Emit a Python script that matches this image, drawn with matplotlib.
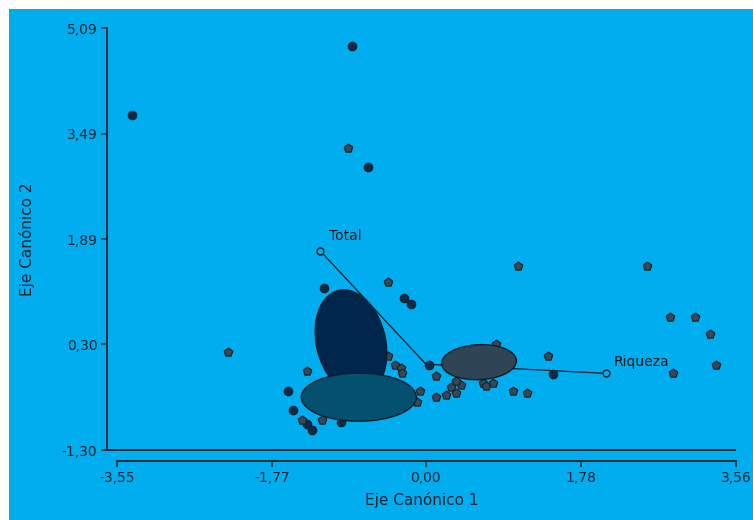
import numpy as np
import matplotlib
matplotlib.use('Agg')
import matplotlib.pyplot as plt
from matplotlib.patches import Ellipse, Rectangle

plt.rcParams['font.family'      ] = 'DejaVu Sans'
plt.rcParams['font.size'        ] = 10
plt.rcParams['xtick.direction'  ] = 'out'
plt.rcParams['ytick.direction'  ] = 'out'
plt.rcParams['xtick.major.size' ] = 4
plt.rcParams['ytick.major.size' ] = 4
plt.rcParams['xtick.major.width'] = 1.1
plt.rcParams['ytick.major.width'] = 1.1

# tick values as printed on the chart
x_ticks = [-3.55, -1.77, 0.00, 1.78, 3.56]
x_tick_labels = ['-3,55', '-1,77', '0,00', '1,78', '3,56']
y_ticks = [-1.30, 0.30, 1.89, 3.49, 5.09]
y_tick_labels = ['-1,30', '0,30', '1,89', '3,49', '5,09']

navy_x = [-3.37, -0.85, -0.67, -1.17, -0.25, -0.17, -1.58, -1.52, -1.37, -1.31, 0.03, 1.46, -0.97]
navy_y = [3.77, 4.81, 2.98, 1.15, 1.00, 0.91, -0.41, -0.70, -0.91, -1.00, -0.01, -0.15, -0.88]

grey_x = [-0.89, -2.27, -1.37, -1.42, -0.43, -0.43, -0.36, -0.29, -0.28, -0.07, -0.10, -1.19,
          0.12, 0.12, 0.23, 0.29, 0.35, 0.40, 0.34, 0.65, 0.69, 0.77, 0.80, 1.00, 1.16,
          1.06, 2.54, 1.40, 2.80, 3.09, 3.26, 3.33, 2.84]
grey_y = [3.28, 0.19, -0.11, -0.84, 1.25, 0.12, -0.02, -0.06, -0.14, -0.41, -0.58, -0.84,
          -0.18, -0.50, -0.47, -0.35, -0.43, -0.31, -0.25, -0.28, -0.33, -0.28, 0.30, -0.41, -0.43,
          1.48, 1.48, 0.12, 0.71, 0.71, 0.45, -0.02, -0.14]

# group ellipses: centre x, centre y, width, height, angle
ell_cx = [-0.86, -0.77, 0.61]
ell_cy = [0.33, -0.50, 0.03]
ell_w = [0.80, 1.32, 0.86]
ell_h = [1.60, 0.73, 0.53]
ell_ang = [8, 0, 4]
ell_col = ['#00264b', '#03506f', '#2f4454']

# variable vectors
var_names = ['Total', 'Riqueza']
var_x = [-1.21, 2.07]
var_y = [1.71, -0.14]

fig = plt.figure(figsize=(7.53, 5.20), dpi=100)
fig.patches.append(Rectangle((9/753, 0), 1, 1 - 9/520, transform=fig.transFigure,
                             facecolor='#00aeef', edgecolor='none', zorder=-10))

ax = fig.add_axes([107/753, 70/520, 629/753, 422/520])
ax.set_facecolor('none')

ax.scatter(navy_x, navy_y, s=38, marker='o', facecolor='#0d2b47', edgecolor='#14222e', lw=0.8, zorder=2)
ax.scatter(grey_x, grey_y, s=42, marker='p', facecolor='#3a4855', edgecolor='#14222e', lw=0.8, zorder=2)

for i in range(len(var_names)):
    ax.plot([0, var_x[i]], [0, var_y[i]], color='#111c24', lw=0.9, zorder=1)
    ax.plot(var_x[i], var_y[i], 'o', ms=5, mfc='#00aeef', mec='#111c24', mew=1.0, zorder=3)

for i in range(len(ell_cx)):
    ax.add_patch(Ellipse((ell_cx[i], ell_cy[i]), ell_w[i], ell_h[i], angle=ell_ang[i],
                         facecolor=ell_col[i], edgecolor='#0f1e2a', lw=1.0, zorder=4))

ax.text(-1.11, 1.94, 'Total', fontsize=10, color='#1a1a1a', va='center', ha='left', zorder=5)
ax.text(2.15, 0.04, 'Riqueza', fontsize=10, color='#1a1a1a', va='center', ha='left', zorder=5)

ax.set_xlim(-3.661, 3.56)
ax.set_ylim(-1.30, 5.09)

ax.spines['top'].set_visible(False)
ax.spines['right'].set_visible(False)
ax.spines['left'].set_linewidth(1.4)
ax.spines['left'].set_color('#1b2a33')
ax.spines['bottom'].set_linewidth(1.4)
ax.spines['bottom'].set_color('#1b2a33')
ax.spines['bottom'].set_position(('outward', 8))
ax.spines['bottom'].set_bounds(-3.55, 3.56)
ax.axhline(-1.30, xmax=0.9985, color='#1b2a33', lw=1.4, clip_on=False, zorder=1)

ax.set_xticks(x_ticks)
ax.set_xticklabels(x_tick_labels, fontsize=10)
ax.set_yticks(y_ticks)
ax.set_yticklabels(y_tick_labels, fontsize=10)
ax.tick_params(colors='#1b2a33', labelcolor='#1a2530', pad=3)

ax.set_xlabel('Eje Canónico 1', fontsize=11, color='#1a2530', labelpad=5)
ax.set_ylabel('Eje Canónico 2', fontsize=11, color='#1a2530', labelpad=19)

plt.savefig('out.png', dpi=100)
